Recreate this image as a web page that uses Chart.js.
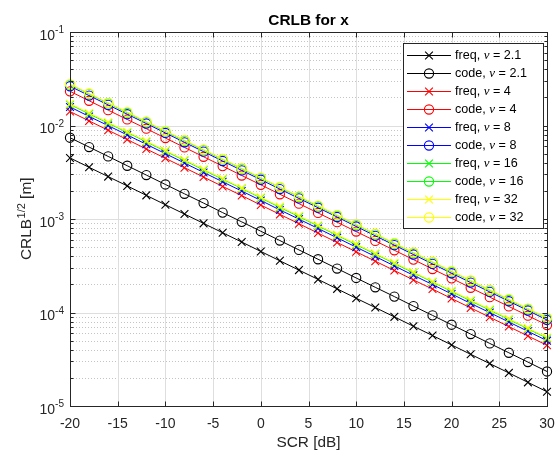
<!DOCTYPE html>
<html>
<head>
<meta charset="utf-8">
<script src="https://cdn.jsdelivr.net/npm/chart.js@4.4.1/dist/chart.umd.min.js"></script>
<style>
  html, body { margin: 0; padding: 0; background: #ffffff; }
  #c { display: block; }
</style>
</head>
<body>
<canvas id="c" width="556" height="452"></canvas>
<script>
// SCR axis (dB)
const scr = [-20, -18, -16, -14, -12, -10, -8, -6, -4, -2, 0, 2, 4, 6, 8, 10, 12, 14, 16, 18, 20, 22, 24, 26, 28, 30];

// CRLB^(1/2) [m], frequency-based and code-based, for each nu
const freq21 = [4.50e-3, 3.57e-3, 2.84e-3, 2.26e-3, 1.79e-3, 1.42e-3, 1.13e-3, 8.98e-4, 7.13e-4, 5.67e-4,
                4.50e-4, 3.57e-4, 2.84e-4, 2.26e-4, 1.79e-4, 1.42e-4, 1.13e-4, 8.98e-5, 7.13e-5, 5.67e-5,
                4.50e-5, 3.57e-5, 2.84e-5, 2.26e-5, 1.79e-5, 1.42e-5];
const code21 = [7.40e-3, 5.88e-3, 4.67e-3, 3.71e-3, 2.95e-3, 2.34e-3, 1.86e-3, 1.48e-3, 1.17e-3, 9.32e-4,
                7.40e-4, 5.88e-4, 4.67e-4, 3.71e-4, 2.95e-4, 2.34e-4, 1.86e-4, 1.48e-4, 1.17e-4, 9.32e-5,
                7.40e-5, 5.88e-5, 4.67e-5, 3.71e-5, 2.95e-5, 2.34e-5];
const freq4 = [1.41e-2, 1.12e-2, 8.90e-3, 7.07e-3, 5.61e-3, 4.46e-3, 3.54e-3, 2.81e-3, 2.23e-3, 1.78e-3,
               1.41e-3, 1.12e-3, 8.90e-4, 7.07e-4, 5.61e-4, 4.46e-4, 3.54e-4, 2.81e-4, 2.23e-4, 1.78e-4,
               1.41e-4, 1.12e-4, 8.90e-5, 7.07e-5, 5.61e-5, 4.46e-5];
const code4 = [2.32e-2, 1.84e-2, 1.46e-2, 1.16e-2, 9.24e-3, 7.34e-3, 5.83e-3, 4.63e-3, 3.68e-3, 2.92e-3,
               2.32e-3, 1.84e-3, 1.46e-3, 1.16e-3, 9.24e-4, 7.34e-4, 5.83e-4, 4.63e-4, 3.68e-4, 2.92e-4,
               2.32e-4, 1.84e-4, 1.46e-4, 1.16e-4, 9.24e-5, 7.34e-5];
const freq8 = [1.58e-2, 1.25e-2, 9.97e-3, 7.92e-3, 6.29e-3, 5.00e-3, 3.97e-3, 3.15e-3, 2.50e-3, 1.99e-3,
               1.58e-3, 1.25e-3, 9.97e-4, 7.92e-4, 6.29e-4, 5.00e-4, 3.97e-4, 3.15e-4, 2.50e-4, 1.99e-4,
               1.58e-4, 1.25e-4, 9.97e-5, 7.92e-5, 6.29e-5, 5.00e-5];
const code8 = [2.63e-2, 2.09e-2, 1.66e-2, 1.32e-2, 1.05e-2, 8.32e-3, 6.61e-3, 5.25e-3, 4.17e-3, 3.31e-3,
               2.63e-3, 2.09e-3, 1.66e-3, 1.32e-3, 1.05e-3, 8.32e-4, 6.61e-4, 5.25e-4, 4.17e-4, 3.31e-4,
               2.63e-4, 2.09e-4, 1.66e-4, 1.32e-4, 1.05e-4, 8.32e-5];
const freq16 = [1.68e-2, 1.33e-2, 1.06e-2, 8.42e-3, 6.69e-3, 5.31e-3, 4.22e-3, 3.35e-3, 2.66e-3, 2.12e-3,
                1.68e-3, 1.33e-3, 1.06e-3, 8.42e-4, 6.69e-4, 5.31e-4, 4.22e-4, 3.35e-4, 2.66e-4, 2.12e-4,
                1.68e-4, 1.33e-4, 1.06e-4, 8.42e-5, 6.69e-5, 5.31e-5];
const code16 = [2.74e-2, 2.18e-2, 1.73e-2, 1.37e-2, 1.09e-2, 8.66e-3, 6.88e-3, 5.47e-3, 4.34e-3, 3.45e-3,
                2.74e-3, 2.18e-3, 1.73e-3, 1.37e-3, 1.09e-3, 8.66e-4, 6.88e-4, 5.47e-4, 4.34e-4, 3.45e-4,
                2.74e-4, 2.18e-4, 1.73e-4, 1.37e-4, 1.09e-4, 8.66e-5];
const freq32 = [1.71e-2, 1.36e-2, 1.08e-2, 8.57e-3, 6.81e-3, 5.41e-3, 4.30e-3, 3.41e-3, 2.71e-3, 2.15e-3,
                1.71e-3, 1.36e-3, 1.08e-3, 8.57e-4, 6.81e-4, 5.41e-4, 4.30e-4, 3.41e-4, 2.71e-4, 2.15e-4,
                1.71e-4, 1.36e-4, 1.08e-4, 8.57e-5, 6.81e-5, 5.41e-5];
const code32 = [2.77e-2, 2.20e-2, 1.75e-2, 1.39e-2, 1.10e-2, 8.76e-3, 6.96e-3, 5.53e-3, 4.39e-3, 3.49e-3,
                2.77e-3, 2.20e-3, 1.75e-3, 1.39e-3, 1.10e-3, 8.76e-4, 6.96e-4, 5.53e-4, 4.39e-4, 3.49e-4,
                2.77e-4, 2.20e-4, 1.75e-4, 1.39e-4, 1.10e-4, 8.76e-5];

// Axis ticks
const xTicks = [-20, -15, -10, -5, 0, 5, 10, 15, 20, 25, 30];
const yTicks = [1e-5, 1e-4, 1e-3, 1e-2, 1e-1];
const yExponents = ['-5', '-4', '-3', '-2', '-1'];

// Legend entries, in plotting order
const kinds = ['freq', 'code', 'freq', 'code', 'freq', 'code', 'freq', 'code', 'freq', 'code'];
const nus = ['2.1', '2.1', '4', '4', '8', '8', '16', '16', '32', '32'];
const colors = ['#000000', '#000000', '#ff0000', '#ff0000', '#0000ff', '#0000ff', '#00ff00', '#00ff00', '#ffff00', '#ffff00'];
const values = [freq21, code21, freq4, code4, freq8, code8, freq16, code16, freq32, code32];

const FONT = '"Liberation Sans", Arial, Helvetica, sans-serif';
const INK = '#262626';

const datasets = values.map((v, i) => ({
  label: kinds[i] + ', \u03bd = ' + nus[i],
  data: scr.map((s, j) => ({ x: s, y: v[j] })),
  borderColor: colors[i],
  backgroundColor: 'rgba(0,0,0,0)',
  borderWidth: 1,
  pointStyle: kinds[i] === 'freq' ? 'crossRot' : 'circle',
  pointRadius: kinds[i] === 'freq' ? 5.5 : 4.6,
  pointBorderWidth: 1.1,
  pointBorderColor: colors[i],
  pointBackgroundColor: 'rgba(0,0,0,0)',
  pointHoverRadius: 0,
  tension: 0,
  clip: false,
  order: values.length - 1 - i
}));

function pix(v) { return Math.round(v) + 0.5; }

const frame = {
  id: 'frame',
  beforeDraw(chart) {
    const ctx = chart.ctx;
    ctx.save();
    ctx.fillStyle = '#ffffff';
    ctx.fillRect(0, 0, chart.width, chart.height);
    ctx.restore();
  },
  beforeDatasetsDraw(chart) {
    const { ctx, chartArea: a, scales: { x, y } } = chart;
    ctx.save();
    ctx.lineWidth = 1;
    // minor (dotted) grid at 2..9 x decade
    ctx.strokeStyle = '#c4c4c4';
    ctx.setLineDash([1, 2]);
    for (let d = 0; d < yTicks.length - 1; d++) {
      for (let m = 2; m <= 9; m++) {
        const py = pix(y.getPixelForValue(m * yTicks[d]));
        ctx.beginPath(); ctx.moveTo(a.left, py); ctx.lineTo(a.right, py); ctx.stroke();
      }
    }
    // major grid
    ctx.setLineDash([]);
    ctx.strokeStyle = '#dedede';
    xTicks.forEach(t => {
      const px = pix(x.getPixelForValue(t));
      ctx.beginPath(); ctx.moveTo(px, a.top); ctx.lineTo(px, a.bottom); ctx.stroke();
    });
    yTicks.forEach(t => {
      const py = pix(y.getPixelForValue(t));
      ctx.beginPath(); ctx.moveTo(a.left, py); ctx.lineTo(a.right, py); ctx.stroke();
    });
    ctx.restore();
  },
  afterDatasetsDraw(chart) {
    const { ctx, chartArea: a, scales: { x, y } } = chart;
    ctx.save();
    ctx.lineWidth = 1;
    ctx.strokeStyle = INK;
    ctx.fillStyle = INK;

    // box
    const L = pix(a.left), R = pix(a.right), T = pix(a.top), B = pix(a.bottom);
    ctx.strokeRect(L, T, R - L, B - T);

    // x ticks (bottom and top, inward)
    xTicks.forEach(t => {
      const px = pix(x.getPixelForValue(t));
      ctx.beginPath();
      ctx.moveTo(px, B); ctx.lineTo(px, B - 5);
      ctx.moveTo(px, T); ctx.lineTo(px, T + 5);
      ctx.stroke();
    });
    // y ticks (major and minor, both sides)
    yTicks.forEach((t, d) => {
      const py = pix(y.getPixelForValue(t));
      ctx.beginPath();
      ctx.moveTo(L, py); ctx.lineTo(L + 5, py);
      ctx.moveTo(R, py); ctx.lineTo(R - 5, py);
      ctx.stroke();
      if (d < yTicks.length - 1) {
        for (let m = 2; m <= 9; m++) {
          const qy = pix(y.getPixelForValue(m * t));
          ctx.beginPath();
          ctx.moveTo(L, qy); ctx.lineTo(L + 3, qy);
          ctx.moveTo(R, qy); ctx.lineTo(R - 3, qy);
          ctx.stroke();
        }
      }
    });

    // x tick labels
    ctx.font = '14px ' + FONT;
    ctx.textAlign = 'center';
    ctx.textBaseline = 'alphabetic';
    xTicks.forEach(t => {
      ctx.fillText(String(t), x.getPixelForValue(t), 428);
    });

    // y tick labels: 10 with superscript exponent
    yTicks.forEach((t, i) => {
      const py = y.getPixelForValue(t);
      ctx.font = '10px ' + FONT;
      ctx.textAlign = 'right';
      const supW = ctx.measureText(yExponents[i]).width;
      ctx.fillText(yExponents[i], 64, py + 1);
      ctx.font = '14px ' + FONT;
      ctx.fillText('10', 64 - supW, py + 7.5);
    });

    // x axis title
    ctx.font = '15.4px ' + FONT;
    ctx.textAlign = 'center';
    ctx.fillText('SCR [dB]', (a.left + a.right) / 2, 447);

    // y axis title, rotated, with superscript 1/2
    ctx.save();
    ctx.translate(31, (a.top + a.bottom) / 2);
    ctx.rotate(-Math.PI / 2);
    ctx.textAlign = 'left';
    ctx.font = '15.4px ' + FONT;
    const w1 = ctx.measureText('CRLB').width;
    const w3 = ctx.measureText(' [m]').width;
    ctx.font = '11px ' + FONT;
    const w2 = ctx.measureText('1/2').width;
    let sx = -(w1 + w2 + w3) / 2;
    ctx.font = '15.4px ' + FONT;
    ctx.fillText('CRLB', sx, 0);
    ctx.font = '11px ' + FONT;
    ctx.fillText('1/2', sx + w1 + 0.5, -6);
    ctx.font = '15.4px ' + FONT;
    ctx.fillText(' [m]', sx + w1 + w2 + 0.5, 0);
    ctx.restore();

    // title
    ctx.font = 'bold 15.4px ' + FONT;
    ctx.textAlign = 'center';
    ctx.fillStyle = '#000000';
    ctx.fillText('CRLB for x', (a.left + a.right) / 2, 25);

    // legend
    const lx = 403, ly = 43, lw = 140, lh = 185;
    ctx.fillStyle = '#ffffff';
    ctx.fillRect(lx, ly, lw, lh);
    ctx.strokeStyle = INK;
    ctx.strokeRect(lx + 0.5, ly + 0.5, lw, lh);
    chart.data.datasets.forEach((ds, i) => {
      const ry = pix(55 + 18 * i);
      ctx.strokeStyle = ds.borderColor;
      ctx.lineWidth = 1;
      ctx.beginPath(); ctx.moveTo(407, ry); ctx.lineTo(451, ry); ctx.stroke();
      ctx.fillStyle = 'rgba(0,0,0,0)';
      ctx.lineWidth = ds.pointBorderWidth;
      Chart.helpers.drawPoint(ctx, {
        pointStyle: ds.pointStyle, radius: ds.pointRadius, borderWidth: ds.pointBorderWidth, rotation: 0
      }, 429, ry);
      ctx.fillStyle = '#000000';
      ctx.textAlign = 'left';
      ctx.textBaseline = 'middle';
      ctx.font = '12.6px ' + FONT;
      let tx = 455;
      const head = kinds[i] + ', ';
      ctx.fillText(head, tx, ry + 0.5);
      tx += ctx.measureText(head).width;
      ctx.font = 'italic 13px "Liberation Serif", "Times New Roman", serif';
      ctx.fillText('\u03bd', tx, ry + 0.5);
      tx += ctx.measureText('\u03bd').width;
      ctx.font = '12.6px ' + FONT;
      ctx.fillText(' = ' + nus[i], tx, ry + 0.5);
    });
    ctx.restore();
  }
};

new Chart(document.getElementById('c'), {
  type: 'line',
  data: { datasets },
  options: {
    responsive: false,
    devicePixelRatio: 1,
    animation: false,
    events: [],
    layout: { padding: { left: 70, right: 9, top: 32, bottom: 46 } },
    plugins: { legend: { display: false }, title: { display: false }, tooltip: { enabled: false } },
    scales: {
      x: { type: 'linear', min: -20, max: 30, display: false },
      y: { type: 'logarithmic', min: 1e-5, max: 1e-1, display: false }
    }
  },
  plugins: [frame]
});
</script>
</body>
</html>
